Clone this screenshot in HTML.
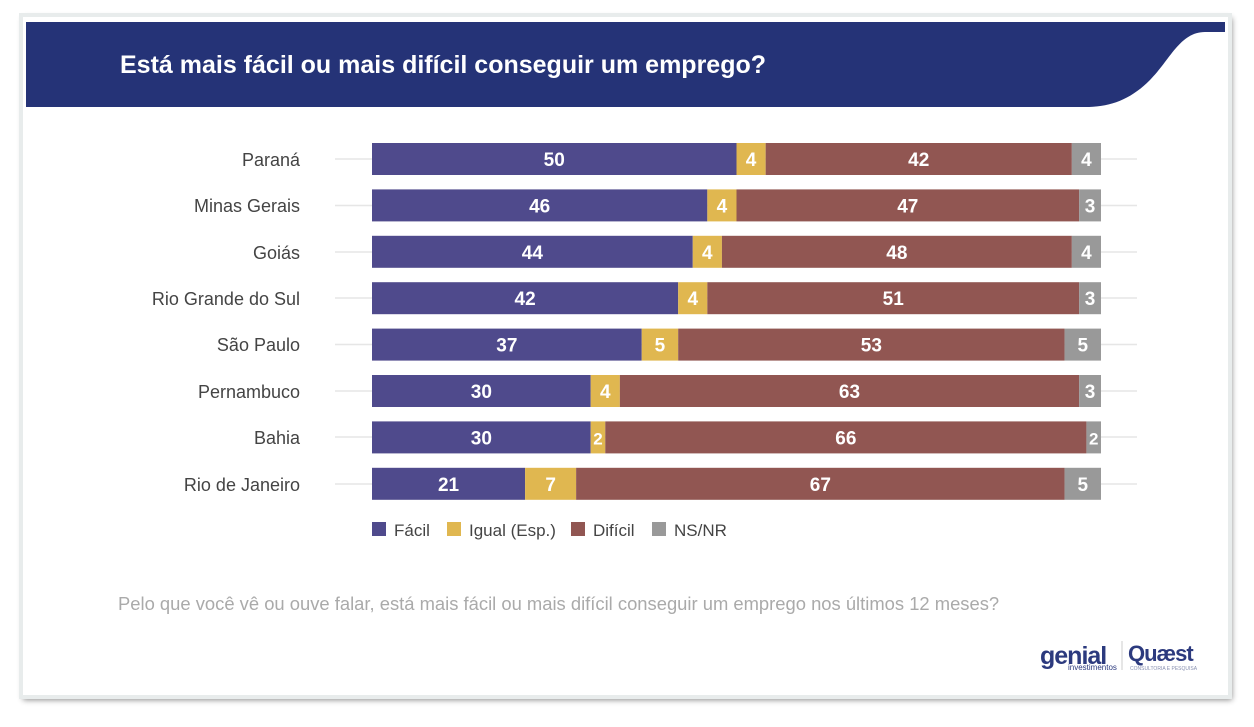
<!DOCTYPE html>
<html><head><meta charset="utf-8"><style>
body{margin:0;width:1254px;height:722px;background:#fff;overflow:hidden;font-family:"Liberation Sans",Arial,sans-serif}
</style></head><body>
<svg width="1254" height="722" xmlns="http://www.w3.org/2000/svg" font-family="Liberation Sans, Arial, sans-serif">
<defs><filter id="sh" x="-5%" y="-5%" width="110%" height="110%"><feDropShadow dx="2" dy="3" stdDeviation="3" flood-color="#000" flood-opacity="0.45"/></filter></defs>
<rect x="0" y="0" width="1254" height="722" fill="#fff"/>
<rect x="21" y="15" width="1209" height="682" fill="#fff" filter="url(#sh)"/>
<rect x="21" y="15" width="1209" height="682" fill="none" stroke="#e8ecec" stroke-width="4"/>
<path d="M26 22 H1225 V32 H1205 C1180 32 1170 60 1150 80 C1130 100 1110 107 1085 107 H26 Z" fill="#253377"/>
<text x="120" y="73" font-size="25" font-weight="bold" fill="#fff">Está mais fácil ou mais difícil conseguir um emprego?</text>
<g font-size="18" fill="#444" text-anchor="end">
<text x="300" y="166">Paraná</text><text x="300" y="212">Minas Gerais</text><text x="300" y="259">Goiás</text><text x="300" y="305">Rio Grande do Sul</text><text x="300" y="351">São Paulo</text><text x="300" y="398">Pernambuco</text><text x="300" y="444">Bahia</text><text x="300" y="491">Rio de Janeiro</text>
</g>
<g stroke="#e6e6e6" stroke-width="1.5">
<line x1="335" y1="159" x2="1137" y2="159"/><line x1="335" y1="205.5" x2="1137" y2="205.5"/><line x1="335" y1="252" x2="1137" y2="252"/><line x1="335" y1="298" x2="1137" y2="298"/><line x1="335" y1="344.5" x2="1137" y2="344.5"/><line x1="335" y1="391" x2="1137" y2="391"/><line x1="335" y1="437" x2="1137" y2="437"/><line x1="335" y1="484" x2="1137" y2="484"/>
</g>
<g id="bars" font-weight="bold" fill="#fff" text-anchor="middle"></g>
<g font-size="17" fill="#444">
<rect x="372" y="522" width="14" height="14" fill="#4f4a8c"/><text x="394" y="536">Fácil</text>
<rect x="447" y="522" width="14" height="14" fill="#e0b750"/><text x="469" y="536">Igual (Esp.)</text>
<rect x="571" y="522" width="14" height="14" fill="#915652"/><text x="593" y="536">Difícil</text>
<rect x="652" y="522" width="14" height="14" fill="#999"/><text x="674" y="536">NS/NR</text>
</g>
<text x="118" y="610" font-size="18.4" fill="#aaa">Pelo que você vê ou ouve falar, está mais fácil ou mais difícil conseguir um emprego nos últimos 12 meses?</text>
<text x="1040" y="664" font-size="25" font-weight="bold" fill="#2c3a7e" letter-spacing="-1">genial</text>
<text x="1068" y="670" font-size="8" fill="#2c3a7e">investimentos</text>
<line x1="1122" y1="641" x2="1122" y2="670" stroke="#ccc"/>
<text x="1128" y="661" font-size="22" font-weight="bold" fill="#2c3a7e" letter-spacing="-1">Quæst</text>
<text x="1130" y="670" font-size="5" fill="#8890b0">CONSULTORIA E PESQUISA</text>
</svg>
<script>
var d=[[50,4,42,4],[46,4,47,3],[44,4,48,4],[42,4,51,3],[37,5,53,5],[30,4,63,3],[30,2,66,2],[21,7,67,5]];
var c=["#4f4a8c","#e0b750","#915652","#999999"];
var g=document.getElementById("bars"),ns="http://www.w3.org/2000/svg",s=7.29;
d.forEach(function(r,i){var y=143+i*46.4,x=372;r.forEach(function(v,j){var w=v*s;
var re=document.createElementNS(ns,"rect");re.setAttribute("x",x);re.setAttribute("y",y);re.setAttribute("width",w);re.setAttribute("height",32);re.setAttribute("fill",c[j]);g.appendChild(re);
var t=document.createElementNS(ns,"text");t.setAttribute("x",x+w/2);t.setAttribute("y",y+23);t.setAttribute("font-size",v<3?17:19);t.textContent=v;g.appendChild(t);x+=w;});});
</script>
</body></html>
